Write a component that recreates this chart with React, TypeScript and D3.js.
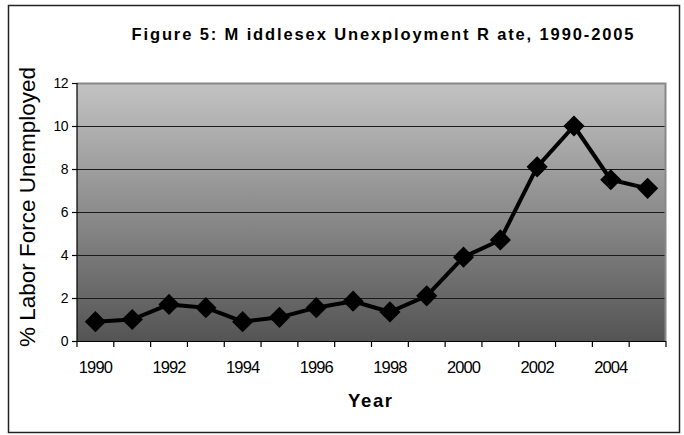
import React from "react";
import * as d3 from "d3";

const years = [1990, 1991, 1992, 1993, 1994, 1995, 1996, 1997, 1998, 1999, 2000, 2001, 2002, 2003, 2004, 2005];
const rates = [0.9, 1.0, 1.7, 1.55, 0.9, 1.1, 1.55, 1.85, 1.35, 2.1, 3.9, 4.7, 8.1, 10.0, 7.5, 7.1];
const yTicks = [0, 2, 4, 6, 8, 10, 12];
const xLabelYears = [1990, 1992, 1994, 1996, 1998, 2000, 2002, 2004];
const title = "Figure 5: M iddlesex Unexployment R ate, 1990-2005";
const xTitle = "Year";
const yTitle = "% Labor Force Unemployed";

const W = 684, H = 435;
const L = 77, R = 666, T = 83, B = 341;

export default function App() {
  const x = d3.scaleBand<number>().domain(years).range([L, R]).padding(0);
  const y = d3.scaleLinear().domain([0, 12]).range([B, T]);
  const cx = (yr: number) => (x(yr) as number) + x.bandwidth() / 2;
  const line = d3.line<number>().x((_, i) => cx(years[i])).y((d) => y(d));
  const diamond = d3.symbol().type(d3.symbolSquare).size(225)();
  const boundaries = d3.range(years.length + 1).map((i) => L + i * x.bandwidth());
  const font = "Arial, 'Liberation Sans', sans-serif";

  return (
    <svg width={W} height={H} style={{ position: "absolute", left: 0, top: 0 }} fontFamily={font}>
      <defs>
        <linearGradient id="bg" x1="0" y1="0" x2="0" y2="1">
          <stop offset="0%" stopColor="#c3c3c3" />
          <stop offset="100%" stopColor="#545454" />
        </linearGradient>
      </defs>
      <rect x={0} y={0} width={W} height={H} fill="#fff" />
      <rect x={8.5} y={5.5} width={671} height={427} fill="#fff" stroke="#222" strokeWidth={1.5} />
      <text x={131.5} y={40} fontSize={16.5} fontWeight="bold" textLength={502} lengthAdjust="spacing" fill="#000">
        {title}
      </text>
      <rect x={L} y={T} width={R - L} height={B - T} fill="url(#bg)" />
      {yTicks.filter((t) => t > 0 && t < 12).map((t) => (
        <line key={t} x1={L} x2={R} y1={Math.round(y(t)) + 0.5} y2={Math.round(y(t)) + 0.5} stroke="#1a1a1a" strokeWidth={1.2} />
      ))}
      <polyline points={`${L},${T + 0.5} ${R - 0.5},${T + 0.5} ${R - 0.5},${B}`} fill="none" stroke="#888" strokeWidth={2} />
      <line x1={L} x2={L} y1={T} y2={B} stroke="#000" strokeWidth={1.2} />
      <line x1={L} x2={R} y1={B + 0.5} y2={B + 0.5} stroke="#000" strokeWidth={1.2} />
      {yTicks.map((t) => (
        <g key={t}>
          <line x1={L - 5} x2={L} y1={Math.round(y(t)) + 0.5} y2={Math.round(y(t)) + 0.5} stroke="#000" strokeWidth={1.2} />
          <text x={L - 9} y={y(t) + 5} fontSize={14} textAnchor="end" letterSpacing={-0.5} fill="#000">{t}</text>
        </g>
      ))}
      {boundaries.map((b, i) => (
        <line key={i} x1={b} x2={b} y1={B} y2={B + 6} stroke="#000" strokeWidth={1.2} />
      ))}
      {xLabelYears.map((yr) => (
        <text key={yr} x={cx(yr)} y={373} fontSize={16.5} textAnchor="middle" letterSpacing={-0.9} fill="#000">{yr}</text>
      ))}
      <text x={348} y={406.5} fontSize={18.5} fontWeight="bold" textLength={44} lengthAdjust="spacing" fill="#000">{xTitle}</text>
      <text transform="translate(34.5,207) rotate(-90)" fontSize={22.5} textAnchor="middle" fill="#000">{yTitle}</text>
      <path d={line(rates) as string} fill="none" stroke="#000" strokeWidth={4} strokeLinejoin="round" />
      {rates.map((v, i) => (
        <path key={i} d={diamond as string} transform={`translate(${cx(years[i])},${y(v)}) rotate(45)`} fill="#000" />
      ))}
    </svg>
  );
}
